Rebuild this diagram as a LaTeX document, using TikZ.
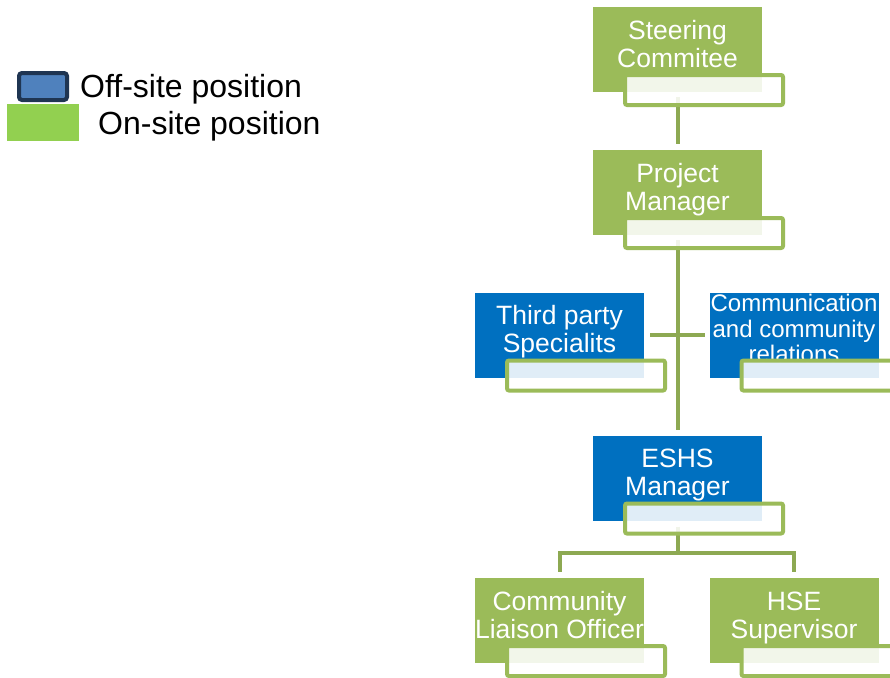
\documentclass[tikz,border=0pt]{standalone}
\usepackage{fontspec}
\setmainfont{Liberation Sans}
\usetikzlibrary{backgrounds,calc}
\definecolor{ogreen}{HTML}{9BBB59}
\definecolor{oblue}{HTML}{0070C0}
\definecolor{cgreen}{HTML}{8DA952}
\definecolor{lgblue}{HTML}{4F81BD}
\definecolor{lgnavy}{HTML}{1F3552}
\definecolor{lggreen}{HTML}{92D050}
\tikzset{
  mainbox/.style={minimum width=169pt, minimum height=85pt, inner sep=0pt, draw=none},
  onsite/.style={mainbox, fill=ogreen},
  offsite/.style={mainbox, fill=oblue},
  subbox/.style={minimum width=158pt, minimum height=30pt, inner sep=0pt, draw=ogreen, line width=4pt, rounded corners=2pt, fill=white, fill opacity=0.88},
  boxtext/.style={text=white, align=center, font=\fontsize{26.5}{28}\selectfont, inner sep=0pt},
  conn/.style={draw=cgreen, line width=4pt},
  legtext/.style={anchor=base west, inner sep=0pt, font=\fontsize{32}{36}\selectfont}
}
\begin{document}
\begin{tikzpicture}[x=1pt,y=-1pt]
\useasboundingbox (0,0) rectangle (890,677);
% legend
\draw[lgnavy, line width=4pt, fill=lgblue, rounded corners=3pt] (19,73) rectangle (67,100);
\fill[lggreen] (7,104) rectangle (79,141);
\node[legtext] (leg1) at (80,97) {Off-site position};
\node[legtext] (leg2) at (98,134) {On-site position};
% main boxes
\node[onsite] (sc) at (677.5,49.5) {};
\node[onsite] (pm) at (677.5,192.5) {};
\node[offsite] (tp) at (559.5,335) {};
\node[offsite] (cc) at (794,335) {};
\node[offsite] (es) at (677.5,478) {};
\node[onsite] (cl) at (559.5,620.5) {};
\node[onsite] (hs) at (794,620.5) {};
% texts
\node[boxtext] (sct) at ($(sc)+(0,-2)$) {\strut Steering\\\strut Commitee};
\node[boxtext] (pmt) at ($(pm)+(0,-2)$) {\strut Project\\\strut Manager};
\node[boxtext] (tpt) at ($(tp)+(0,-2)$) {\strut Third party\\\strut Specialits};
\node[boxtext, font=\fontsize{24}{25.5}\selectfont] (cct) at ($(cc)+(0,-3)$) {\strut Communication\\\strut and community\\\strut relations};
\node[boxtext] (est) at ($(es)+(0,-2)$) {\strut ESHS\\\strut Manager};
\node[boxtext] (clt) at ($(cl)+(0,-2)$) {\strut Community\\\strut Liaison Officer};
\node[boxtext] (hst) at ($(hs)+(0,-2)$) {\strut HSE\\\strut Supervisor};
% sub boxes
\foreach \n in {sc,pm,tp,cc,es,cl,hs}{
  \node[subbox] (\n s) at ($(\n)+(26.5,40.5)$) {};
}
% connectors
\coordinate (crossL) at (650,335);
\coordinate (crossR) at (705,335);
\coordinate (bar) at (677.5,553);
\begin{scope}[on background layer]
  \draw[conn, shorten <=5pt, shorten >=6pt] (sc.south) -- (pm.north);
  \draw[conn, shorten <=5pt, shorten >=5pt] (pm.south) -- (es.north);
  \draw[conn] (crossL) -- (crossR);
  \draw[conn, shorten <=6pt] (es.south) -- (bar);
  \draw[conn, shorten >=6pt] (bar) -| (cl.north);
  \draw[conn, shorten >=6pt] (bar) -| (hs.north);
\end{scope}
\end{tikzpicture}
\end{document}
